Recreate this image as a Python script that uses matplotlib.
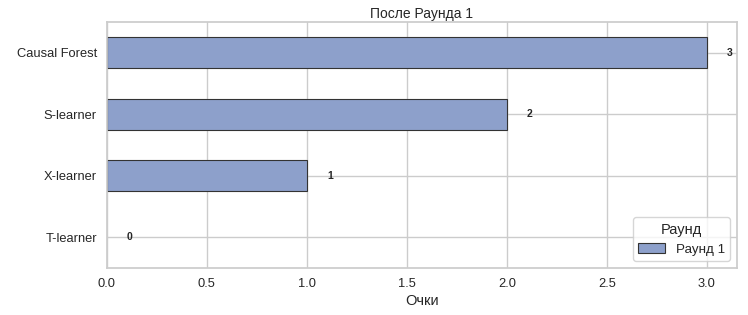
import matplotlib.pyplot as plt
import seaborn as sns

models = ['T-learner', 'X-learner', 'S-learner', 'Causal Forest']
scores = [0, 1, 2, 3]
series_name = 'Раунд 1'

sns.set_theme(style='whitegrid')
plt.rcParams['font.family'] = ['Liberation Sans', 'DejaVu Sans']

fig, ax = plt.subplots(figsize=(7.48, 3.15), dpi=100)
# no outline for empty bars
ax.barh(models, scores, height=0.5, color='#8da0cb', edgecolor='#333333',
        linewidth=[0.8 if v else 0 for v in scores], label=series_name)

for i, v in enumerate(scores):
    ax.text(v + 0.1, i, str(v), va='center', ha='left', fontsize=7.5, fontweight='bold')

ax.set_xlim(0, 3.15)
ax.set_ylim(-0.5, 3.5)
ax.set_title('После Раунда 1', fontsize=10, pad=3)
ax.set_xlabel('Очки', fontsize=10.5, labelpad=3)
ax.set_ylabel('')
ax.tick_params(labelsize=9.3, pad=1.2)
leg = ax.legend(title='Раунд', loc='lower right', fontsize=9.6, title_fontsize=10.5)
leg.legend_handles[0].set_linewidth(0.8)
leg.legend_handles[0].set_edgecolor('#333333')

fig.subplots_adjust(left=0.143, right=0.985, top=0.93, bottom=0.15)
fig.savefig('out.png', dpi=100)
